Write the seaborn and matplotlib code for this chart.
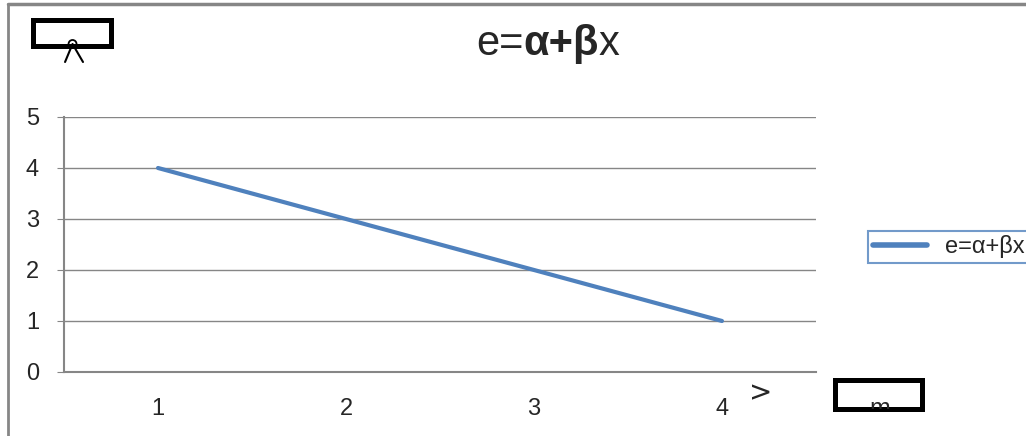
import pandas as pd
import seaborn as sns
import matplotlib.pyplot as plt
from matplotlib.patches import Rectangle, Ellipse
from matplotlib.lines import Line2D

# data
x_vals = [1, 2, 3, 4]
e_vals = [4, 3, 2, 1]
y_ticks = [0, 1, 2, 3, 4, 5]
series_name = "e=α+βx"

df = pd.DataFrame({"x": x_vals, "e": e_vals})

sns.set_style("white")
plt.rcParams['font.family'] = ['Liberation Sans', 'DejaVu Sans']

grey = "#868686"
blue = "#4F81BD"

fig = plt.figure(figsize=(10.26, 4.36), dpi=100)
ax = fig.add_axes([0.0624, 0.1468, 0.7329, 0.5849])

sns.lineplot(data=df, x="x", y="e", ax=ax, color=blue, linewidth=3,
             label=series_name, legend=False)

ax.set_xlim(0.5, 4.5)
ax.set_ylim(0, 5)
ax.set_yticks(y_ticks)
ax.set_yticklabels([str(v) for v in y_ticks])
ax.set_xticks(x_vals)
ax.set_xticklabels([str(v) for v in x_vals])
ax.set_xticks([v + 0.5 for v in [0] + x_vals], minor=True)
ax.tick_params(axis="x", which="major", length=0, pad=19, labelsize=17)
ax.tick_params(axis="x", which="minor", length=5, color=grey, direction="out")
ax.tick_params(axis="y", length=5, color=grey, pad=13, labelsize=17, direction="out", left=True)
ax.set_xlabel("")
ax.set_ylabel("")
ax.yaxis.grid(True, color=grey, linewidth=1)
ax.xaxis.grid(False)
for s in ["top", "right"]:
    ax.spines[s].set_visible(False)
for s in ["left", "bottom"]:
    ax.spines[s].set_color(grey)
    ax.spines[s].set_linewidth(1.5)

# title, pieces placed one after another
t1 = fig.text(0.464, 0.9, "e=", fontsize=30, ha="left", va="center")
t2 = ax.annotate("α+β", xy=(1, 0), xycoords=t1, fontsize=30, fontweight="bold",
                 ha="left", va="bottom")
t3 = ax.annotate("x", xy=(1, 0), xycoords=t2, fontsize=30, ha="left", va="bottom")

# legend
leg = fig.legend(handles=[Line2D([], [], color=blue, linewidth=4)], labels=[series_name],
                 loc="center left", bbox_to_anchor=(0.846, 0.4335), fontsize=17,
                 frameon=True, fancybox=False, handlelength=2.3, handletextpad=0.75,
                 borderpad=0.2, borderaxespad=0)
leg.get_frame().set_edgecolor(blue)
leg.get_frame().set_linewidth(1.5)

# chart border (top and left)
fig.add_artist(Line2D([0.0078, 1.0], [0.991, 0.991], color=grey, linewidth=2.5))
fig.add_artist(Line2D([0.0078, 0.0078], [0.0, 0.991], color=grey, linewidth=2))

# top-left box with caret
fig.add_artist(Rectangle((0.0317, 0.8956), 0.076, 0.0596, fill=False, edgecolor="black", linewidth=3.6))
fig.add_artist(Line2D([0.0634, 0.0707, 0.0809], [0.8578, 0.8991, 0.8578], color="black", linewidth=1.5))
fig.add_artist(Ellipse((0.0707, 0.8991), 8 / 1026, 8 / 436, fill=False, edgecolor="black", linewidth=1.3))

# bottom-right box with clipped m
inner = Rectangle((0.8143, 0.0608), 0.0848, 0.0665, transform=fig.transFigure, visible=False)
fig.add_artist(inner)
m_txt = fig.text(0.8575, 0.045, "m", fontsize=18, ha="center", va="baseline")
m_txt.set_clip_path(inner)
fig.add_artist(Rectangle((0.8143, 0.0608), 0.0848, 0.0665, fill=False, edgecolor="black", linewidth=3.6))
fig.text(0.741, 0.097, ">", fontsize=20, ha="center", va="center", family="DejaVu Sans")

fig.savefig("out.png", dpi=100)
